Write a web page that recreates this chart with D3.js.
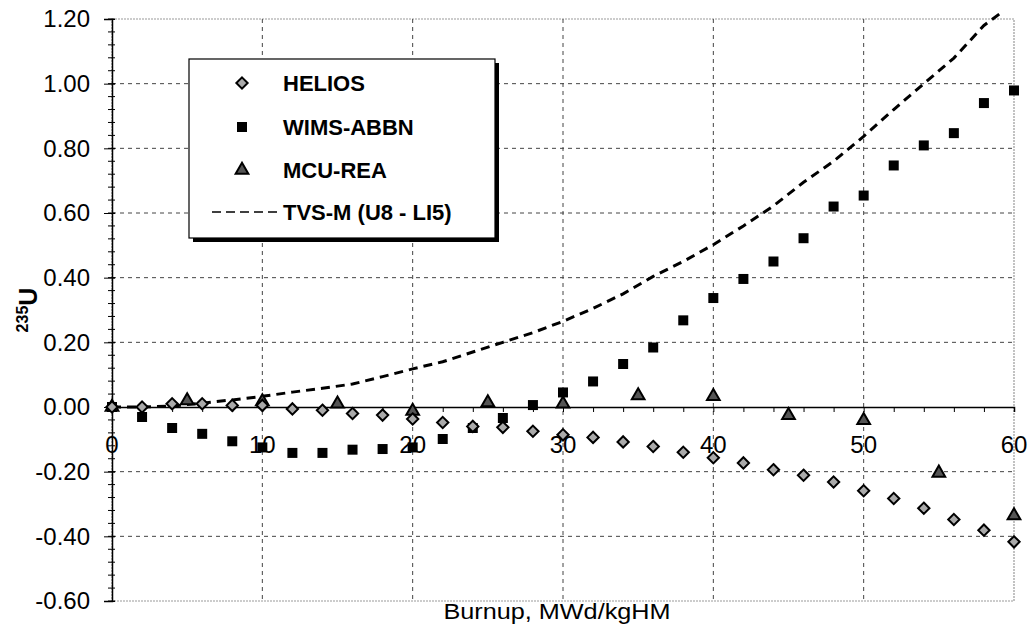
<!DOCTYPE html>
<html>
<head>
  <meta charset="UTF-8">
  <title>235U burnup comparison</title>
  <style>
    body { margin: 0; background: #fff; }
    svg { display: block; font-family: Arial, "Liberation Sans", sans-serif; }
  </style>
</head>
<body>
<svg></svg>
<script src="https://d3js.org/d3.v7.min.js"></script>
<script>

let width = 1031, height = 631;

// data
let heliosBurnup = [0,2,4,6,8,10,12,14,16,18,20,22,24,26,28,30,32,34,36,38,40,42,44,46,48,50,52,54,56,58,60];
let heliosVals = [0,0,0.01,0.01,0.005,0.005,-0.006,-0.01,-0.02,-0.025,-0.037,-0.048,-0.06,-0.063,-0.075,-0.086,
                  -0.094,-0.108,-0.122,-0.14,-0.157,-0.173,-0.194,-0.211,-0.232,-0.259,-0.283,-0.313,-0.348,-0.381,-0.417];

let wimsBurnup = [0,2,4,6,8,10,12,14,16,18,20,22,24,26,28,30,32,34,36,38,40,42,44,46,48,50,52,54,56,58,60];
let wimsVals = [0,-0.031,-0.065,-0.083,-0.106,-0.125,-0.142,-0.142,-0.132,-0.13,-0.125,-0.099,-0.065,-0.034,0.006,0.045,
                0.079,0.133,0.184,0.268,0.337,0.396,0.45,0.522,0.62,0.654,0.747,0.809,0.847,0.94,0.979];

let mcuBurnup = [0,5,10,15,20,25,30,35,40,45,50,55,60];
let mcuVals = [0,0.02,0.017,0.01,-0.013,0.014,0.01,0.035,0.033,-0.026,-0.041,-0.204,-0.336];

let tvsBurnup = [0,2,4,6,8,10,12,14,16,18,20,22,24,26,28,30,32,34,36,38,40,42,44,46,48,50,52,54,56,58,59.3];
let tvsVals = [0,0,0.003,0.012,0.022,0.033,0.046,0.058,0.071,0.094,0.118,0.14,0.17,0.2,0.23,0.265,
               0.305,0.35,0.404,0.45,0.502,0.56,0.622,0.695,0.76,0.837,0.92,1.0,1.079,1.18,1.225];

let yTicks = [-0.6,-0.4,-0.2,0,0.2,0.4,0.6,0.8,1.0,1.2];
let xTicks = [0,10,20,30,40,50,60];
let seriesNames = ["HELIOS","WIMS-ABBN","MCU-REA","TVS-M (U8 - LI5)"];

let svg = d3.select("svg").attr("width", width).attr("height", height);

let pLeft = 112, pRight = 1014, pTop = 19, pBottom = 601;

let x = d3.scaleLinear().domain([0,60]).range([pLeft,pRight]);
let y = d3.scaleLinear().domain([-0.6,1.2]).range([pBottom,pTop]);

// frame
svg.append("rect")
  .attr("x", pLeft).attr("y", pTop)
  .attr("width", pRight-pLeft).attr("height", pBottom-pTop)
  .attr("fill", "none").attr("stroke", "#999").attr("stroke-width", 1.2)
  .attr("stroke-dasharray", "2,1");

// grid
svg.append("g").selectAll("line")
  .data(yTicks.filter(d => d != 0 && d != 1.2 && d != -0.6))
  .enter().append("line")
    .attr("x1", pLeft).attr("x2", pRight)
    .attr("y1", d => y(d)).attr("y2", d => y(d))
    .attr("stroke", "#444").attr("stroke-width", 1)
    .attr("stroke-dasharray", "4,4");
svg.append("g").selectAll("line")
  .data([10,20,30,40,50])
  .enter().append("line")
    .attr("x1", d => x(d)).attr("x2", d => x(d))
    .attr("y1", pTop).attr("y2", pBottom)
    .attr("stroke", "#444").attr("stroke-width", 1)
    .attr("stroke-dasharray", "4,4");

// y axis with minor ticks
let yAxis = d3.axisLeft(y).tickValues(yTicks).tickFormat(d => d.toFixed(2)).tickSize(8).tickPadding(14);
let yG = svg.append("g").attr("transform", "translate(" + pLeft + ",0)").call(yAxis);
yG.select(".domain").attr("stroke", "#000").attr("stroke-width", 1.5);
yG.selectAll(".tick line").attr("x2", -8).attr("x1", 3);
yG.selectAll("text").style("font-size", "24px").attr("fill", "#000");
svg.append("g").selectAll("line")
  .data(d3.range(-0.6, 1.2001, 0.04))
  .enter().append("line")
    .attr("x1", pLeft-4).attr("x2", pLeft+3)
    .attr("y1", d => y(d)).attr("y2", d => y(d))
    .attr("stroke", "#000");

// x axis drawn along zero
let xAxis = d3.axisBottom(x).tickValues(d3.range(0, 61, 2)).tickSize(5).tickFormat("");
let xG = svg.append("g").attr("transform", "translate(0," + y(0) + ")").call(xAxis);
xG.select(".domain").attr("stroke", "#000").attr("stroke-width", 1.5);

// TVS-M curve
let line = d3.line().x(d => x(d[0])).y(d => y(d[1]));
svg.append("path")
  .datum(tvsBurnup.map((b,i) => [b, tvsVals[i]]))
  .attr("d", line)
  .attr("fill", "none").attr("stroke", "#000")
  .attr("stroke-width", 3).attr("stroke-dasharray", "9,6");

// square diamond (rotated square), d3's own diamond is too tall
let rhomb = {
  draw(ctx, size) {
    let r = Math.sqrt(size / 2);
    ctx.moveTo(0, -r); ctx.lineTo(r, 0); ctx.lineTo(0, r); ctx.lineTo(-r, 0); ctx.closePath();
  }
};
let diamond = d3.symbol().type(rhomb).size(64);
let square = d3.symbol().type(d3.symbolSquare).size(100);
let triangle = d3.symbol().type(d3.symbolTriangle).size(70);

// WIMS squares
svg.append("g").selectAll("path")
  .data(wimsBurnup.map((b,i) => [b, wimsVals[i]]))
  .enter().append("path")
    .attr("d", square)
    .attr("transform", d => "translate(" + x(d[0]) + "," + y(d[1]) + ")")
    .attr("fill", "#000");

// MCU triangles
svg.append("g").selectAll("path")
  .data(mcuBurnup.map((b,i) => [b, mcuVals[i]]))
  .enter().append("path")
    .attr("d", triangle)
    .attr("transform", d => "translate(" + x(d[0]) + "," + y(d[1]) + ")")
    .attr("fill", "#555").attr("stroke", "#000").attr("stroke-width", 2);

// HELIOS diamonds
svg.append("g").selectAll("path")
  .data(heliosBurnup.map((b,i) => [b, heliosVals[i]]))
  .enter().append("path")
    .attr("d", diamond)
    .attr("transform", d => "translate(" + x(d[0]) + "," + y(d[1]) + ")")
    .attr("fill", "#aaa").attr("stroke", "#000").attr("stroke-width", 2);

// x tick labels sit below the zero line, over the marks
svg.append("g").selectAll("text")
  .data(xTicks)
  .enter().append("text")
    .attr("x", d => x(d)).attr("y", y(0) + 46)
    .attr("text-anchor", "middle")
    .style("font-size", "24px")
    .text(d => d);

// axis titles
svg.append("text")
  .attr("x", 557).attr("y", 619)
  .attr("text-anchor", "middle")
  .attr("textLength", 227).attr("lengthAdjust", "spacingAndGlyphs")
  .style("font-size", "22px")
  .text("Burnup, MWd/kgHM");

let yt = svg.append("text")
  .attr("transform", "translate(37,310) rotate(-90)")
  .attr("text-anchor", "middle")
  .style("font-weight", "bold");
yt.append("tspan").attr("dy", "-9").style("font-size", "16px").text("235");
yt.append("tspan").attr("dy", "9").style("font-size", "25px").text("U");

// legend
let lg = svg.append("g");
lg.append("rect").attr("x", 193).attr("y", 63).attr("width", 306).attr("height", 179).attr("fill", "#000");
lg.append("rect").attr("x", 189).attr("y", 59).attr("width", 306).attr("height", 179)
  .attr("fill", "#fff").attr("stroke", "#000").attr("stroke-width", 1.2);
let rows = [83, 127, 170, 212];
lg.append("path").attr("d", diamond).attr("transform", "translate(242," + rows[0] + ")")
  .attr("fill", "#aaa").attr("stroke", "#000").attr("stroke-width", 2);
lg.append("path").attr("d", square).attr("transform", "translate(242," + rows[1] + ")")
  .attr("fill", "#000");
lg.append("path").attr("d", triangle).attr("transform", "translate(242," + rows[2] + ")")
  .attr("fill", "#555").attr("stroke", "#000").attr("stroke-width", 2);
lg.append("line").attr("x1", 212).attr("x2", 277).attr("y1", rows[3]).attr("y2", rows[3])
  .attr("stroke", "#000").attr("stroke-width", 1.5).attr("stroke-dasharray", "9,5");
lg.selectAll("text")
  .data(seriesNames)
  .enter().append("text")
    .attr("x", 283).attr("y", (d,i) => rows[i])
    .attr("dominant-baseline", "central")
    .style("font-size", "22px").style("font-weight", "bold")
    .text(d => d);

</script>
</body>
</html>
